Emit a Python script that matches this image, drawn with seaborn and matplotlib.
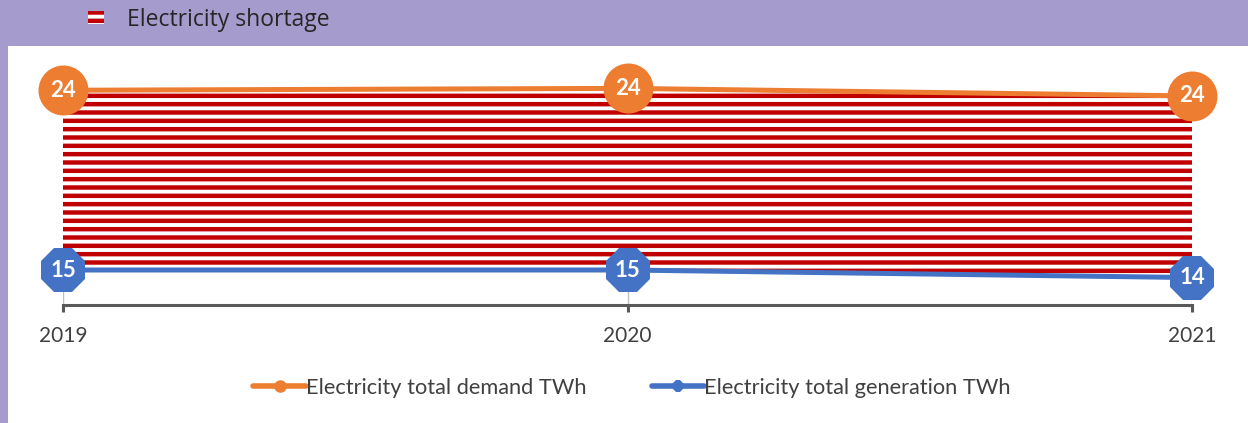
import numpy as np
import pandas as pd
import matplotlib
matplotlib.use("Agg")
import matplotlib.pyplot as plt
from matplotlib.patches import Rectangle
import seaborn as sns

#%%
years = [2019, 2020, 2021]
demand = [24.1, 24.2, 23.8]       # Electricity total demand TWh
generation = [14.6, 14.6, 14.2]   # Electricity total generation TWh

demand_name = "Electricity total demand TWh"
gen_name = "Electricity total generation TWh"
gap_name = "Electricity shortage"

orange = "#ED7D31"
blue = "#4472C4"
red = "#C00000"
purple = "#A59BCD"

df = pd.DataFrame({"year": years, "demand": demand, "generation": generation})

#%%
sns.set_style("white")
plt.rcParams["font.family"] = ["Lato", "DejaVu Sans"]
plt.rcParams["hatch.linewidth"] = 3.2
plt.rcParams["hatch.color"] = red

fig = plt.figure(figsize=(12.48, 4.23), dpi=100)
fig.patch.set_facecolor(purple)
# white panel, purple band on top and left
fig.add_artist(Rectangle((8 / 1248, 0), 1, 1 - 46 / 423, transform=fig.transFigure,
                         facecolor="white", edgecolor="none", zorder=0))

ax = fig.add_axes([63 / 1248, 1 - 305 / 423, (1192 - 63) / 1248, (305 - 60) / 423])
ax.set_facecolor("none")
ymin, ymax = 12.75, 25.7

# thin drop lines at each year, behind everything
ax.vlines(df["year"], ymin, df["demand"], color="#BFBFBF", linewidth=1, zorder=0)

gap = ax.fill_between(df["year"], df["generation"], df["demand"], facecolor="white",
                      edgecolor=red, hatch="--", linewidth=0, zorder=1, label=gap_name)

sns.lineplot(data=df, x="year", y="demand", ax=ax, color=orange, linewidth=3.6,
             marker="o", markersize=36, markeredgewidth=0, zorder=3,
             clip_on=False, legend=False)
demand_line = ax.get_lines()[-1]
sns.lineplot(data=df, x="year", y="generation", ax=ax, color=blue, linewidth=3.6,
             marker="8", markersize=35, markeredgewidth=0, zorder=3,
             clip_on=False, legend=False)
gen_line = ax.get_lines()[-1]

for x, d, g in zip(df["year"], df["demand"], df["generation"]):
    ax.annotate(f"{d:.0f}", (x, d), ha="center", va="center", color="white",
                fontsize=16, fontweight="bold", zorder=5, annotation_clip=False)
    ax.annotate(f"{g:.0f}", (x, g), ha="center", va="center", color="white",
                fontsize=16, fontweight="bold", zorder=5, annotation_clip=False)

ax.set_xlim(2019, 2021)
ax.set_ylim(ymin, ymax)
ax.set_xticks(years)
ax.set_xticklabels([str(y) for y in years])
ax.set_yticks([])
ax.set_xlabel("")
ax.set_ylabel("")
ax.grid(False)
for side in ["left", "right", "top"]:
    ax.spines[side].set_visible(False)
ax.spines["bottom"].set_color("#595959")
ax.spines["bottom"].set_linewidth(2.2)
ax.spines["bottom"].set_zorder(2)
ax.tick_params(axis="x", direction="out", length=5, width=2.2, color="#595959",
               labelcolor="#404040", labelsize=15, pad=10, bottom=True)

# top legend (shortage area)
fig.legend(handles=[gap], loc="center left", bbox_to_anchor=(67 / 1248, 1 - 20 / 423),
           frameon=False, handlelength=0.7, handleheight=0.5, handletextpad=1.0,
           prop={"family": ["Open Sans", "DejaVu Sans"], "size": 16.5})

# bottom legend (lines)
leg = fig.legend(handles=[demand_line, gen_line], labels=[demand_name, gen_name],
                 loc="center", bbox_to_anchor=(632 / 1248, 1 - 388 / 423), ncol=2,
                 frameon=False, fontsize=15.7, handlelength=2.4, handletextpad=0.0,
                 columnspacing=3.0, labelcolor="#404040")
for h in leg.legend_handles:
    h.set_markersize(9)
    h.set_linewidth(4)

fig.savefig("out.png", dpi=100, facecolor=fig.get_facecolor())
